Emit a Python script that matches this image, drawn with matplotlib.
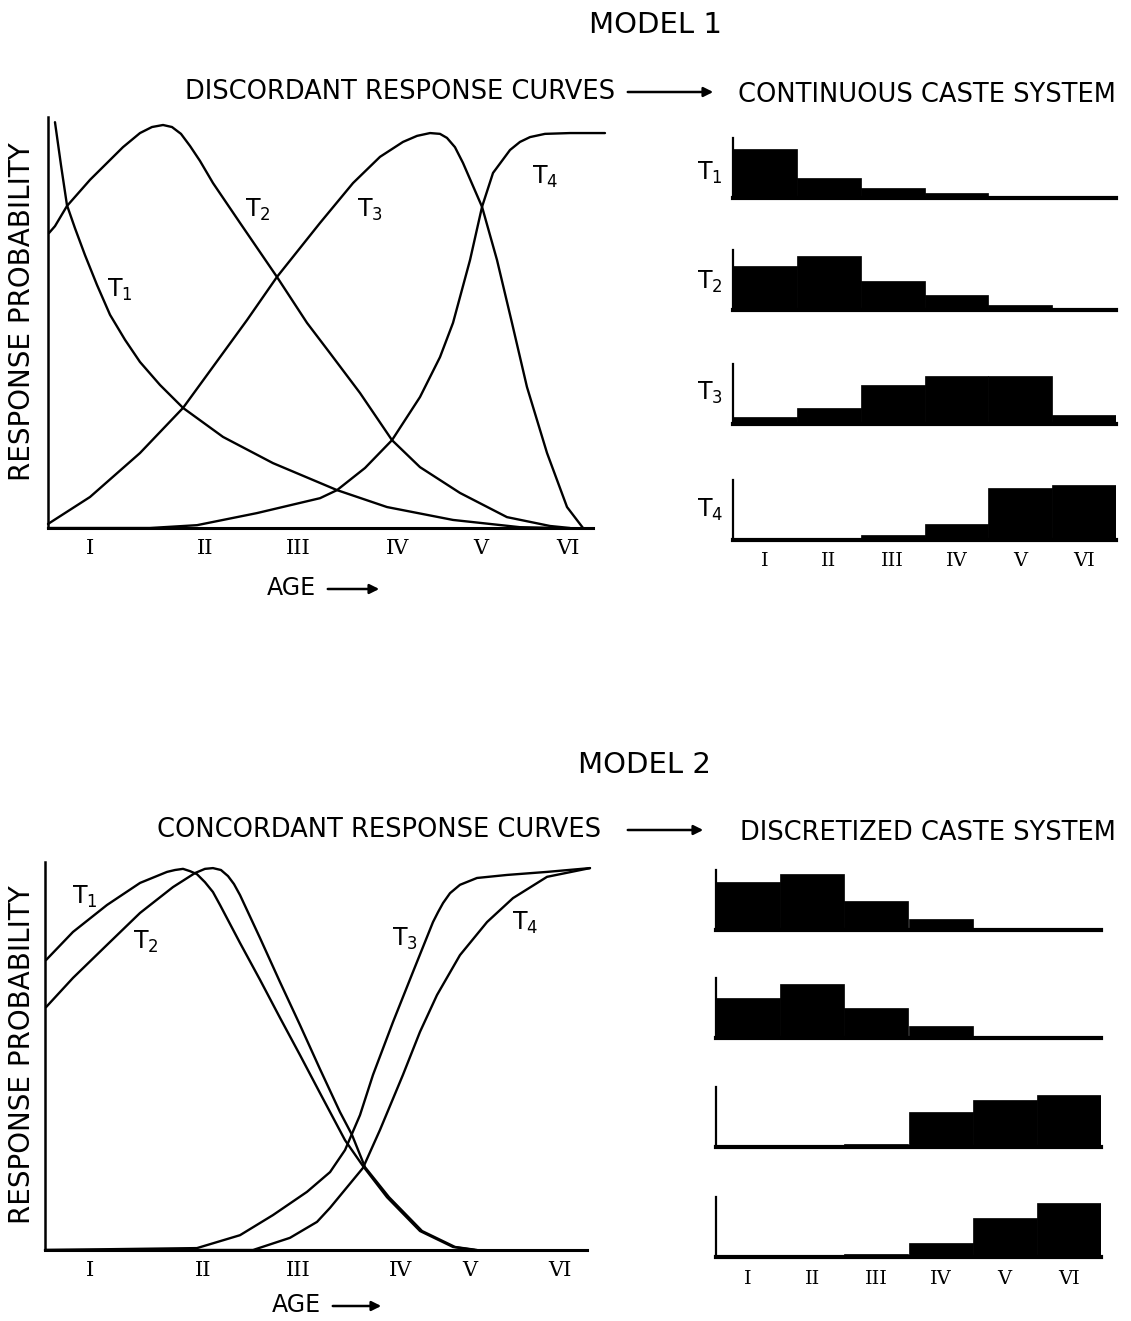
import matplotlib.pyplot as plt
from matplotlib.patches import FancyArrowPatch

# ---- data ----
# ages on a continuous scale, roman numeral ticks placed where the drawing puts them
age_labels = ["I", "II", "III", "IV", "V", "VI"]
m1_tick_pos = [0.45, 1.69, 2.69, 3.76, 4.65, 5.59]
m2_tick_pos = [0.48, 1.70, 2.72, 3.82, 4.57, 5.54]

# Model 1: discordant response curves
m1_t1_age = [0.075, 0.14, 0.204, 0.29, 0.398, 0.527, 0.667, 0.828, 0.989, 1.204, 1.452,
             1.882, 2.419, 3.108, 3.645, 4.355, 5.075, 5.505]
m1_t1_prob = [1.007, 0.90, 0.801, 0.744, 0.677, 0.603, 0.529, 0.467, 0.412, 0.355, 0.298,
              0.226, 0.161, 0.094, 0.052, 0.02, 0.002, 0.0]
m1_t2_age = [0.011, 0.075, 0.204, 0.452, 0.806, 0.989, 1.118, 1.237, 1.333, 1.43, 1.527,
             1.634, 1.774, 2.065, 2.462, 2.785, 3.032, 3.355, 3.699, 4.0, 4.43, 4.935,
             5.398, 5.613]
m1_t2_prob = [0.732, 0.749, 0.799, 0.864, 0.945, 0.98, 0.995, 1.0, 0.995, 0.978, 0.948,
              0.911, 0.856, 0.757, 0.623, 0.509, 0.434, 0.335, 0.218, 0.151, 0.087, 0.027,
              0.005, 0.0]
m1_t3_age = [0.0, 0.452, 0.989, 1.452, 1.774, 2.14, 2.462, 2.925, 3.28, 3.57, 3.817, 3.968,
             4.108, 4.215, 4.29, 4.376, 4.462, 4.667, 4.828, 4.989, 5.15, 5.366, 5.581, 5.753]
m1_t3_prob = [0.01, 0.077, 0.186, 0.298, 0.40, 0.516, 0.623, 0.757, 0.856, 0.921, 0.958, 0.973,
              0.98, 0.978, 0.968, 0.945, 0.906, 0.797, 0.665, 0.509, 0.35, 0.186, 0.052, 0.0]
m1_t4_age = [0.0, 1.097, 1.602, 2.247, 2.925, 3.108, 3.409, 3.699, 4.0, 4.215, 4.355, 4.538,
             4.667, 4.785, 4.968, 5.075, 5.183, 5.344, 5.613, 5.989]
m1_t4_prob = [0.0, 0.0, 0.007, 0.037, 0.074, 0.094, 0.149, 0.218, 0.325, 0.424, 0.509, 0.665,
              0.797, 0.881, 0.938, 0.958, 0.97, 0.978, 0.98, 0.98]

# Model 2: concordant response curves
m2_t1_age = [0.011, 0.301, 0.667, 1.022, 1.312, 1.398, 1.484, 1.559, 1.634, 1.72, 1.806,
             1.882, 2.097, 2.312, 2.527, 2.742, 2.957, 3.226, 3.419, 3.677, 4.032, 4.387, 4.624]
m2_t1_prob = [0.763, 0.837, 0.908, 0.966, 0.995, 1.0, 1.003, 0.997, 0.989, 0.968, 0.942,
              0.908, 0.808, 0.711, 0.611, 0.513, 0.413, 0.289, 0.221, 0.139, 0.05, 0.008, 0.0]
m2_t2_age = [0.011, 0.301, 0.667, 1.022, 1.376, 1.613, 1.72, 1.806, 1.892, 1.968, 2.032,
             2.097, 2.312, 2.527, 2.742, 2.957, 3.172, 3.301, 3.441, 3.699, 4.054, 4.409, 4.645]
m2_t2_prob = [0.639, 0.716, 0.803, 0.887, 0.955, 0.992, 1.003, 1.005, 1.0, 0.984, 0.963,
              0.934, 0.821, 0.705, 0.592, 0.476, 0.363, 0.303, 0.218, 0.139, 0.05, 0.008, 0.0]
m2_t3_age = [0.0, 1.634, 2.097, 2.452, 2.817, 3.065, 3.226, 3.387, 3.527, 3.742, 3.957, 4.172,
             4.226, 4.28, 4.355, 4.462, 4.645, 4.968, 5.398, 5.86]
m2_t3_prob = [0.0, 0.005, 0.039, 0.092, 0.153, 0.205, 0.263, 0.355, 0.461, 0.60, 0.732, 0.863,
              0.889, 0.913, 0.939, 0.961, 0.979, 0.987, 0.995, 1.005]
m2_t4_age = [0.0, 2.237, 2.634, 2.925, 3.065, 3.419, 3.602, 3.849, 4.032, 4.215, 4.462, 4.753,
             5.032, 5.398, 5.86]
m2_t4_prob = [0.0, 0.0, 0.032, 0.074, 0.111, 0.216, 0.316, 0.461, 0.574, 0.671, 0.776, 0.863,
              0.926, 0.982, 1.005]

# caste histograms (relative frequency per age class I..VI)
m1_hist_t1 = [0.89, 0.36, 0.18, 0.09, 0.02, 0.0]
m1_hist_t2 = [0.80, 0.98, 0.53, 0.27, 0.09, 0.01]
m1_hist_t3 = [0.13, 0.29, 0.71, 0.87, 0.87, 0.16]
m1_hist_t4 = [0.0, 0.0, 0.09, 0.29, 0.95, 1.0]
m2_hist_t1 = [0.87, 1.02, 0.53, 0.20, 0.01, 0.01]
m2_hist_t2 = [0.73, 0.98, 0.55, 0.22, 0.01, 0.01]
m2_hist_t3 = [0.0, 0.02, 0.05, 0.64, 0.85, 0.95]
m2_hist_t4 = [0.0, 0.0, 0.05, 0.25, 0.71, 0.98]

task_names = ["$\\mathrm{T_1}$", "$\\mathrm{T_2}$", "$\\mathrm{T_3}$", "$\\mathrm{T_4}$"]

# ---- figure, laid out in pixels of the 1131x1321 page ----
W, H = 1131, 1321
fig = plt.figure(figsize=(W / 100, H / 100), dpi=100)
plt.rcParams['mathtext.fontset'] = 'dejavusans'


def fx(x):
    return x / W


def fy(y):
    return 1 - y / H


def px_axes(left, top, right, bottom):
    return fig.add_axes([fx(left), fy(bottom), (right - left) / W, (bottom - top) / H])


def page_arrow(x0, x1, y):
    arr = FancyArrowPatch((fx(x0), fy(y)), (fx(x1), fy(y)), transform=fig.transFigure,
                          arrowstyle='-|>', mutation_scale=14, lw=1.8, color='black')
    fig.add_artist(arr)


def curve_panel(ax, curves, ticks, spine_end, label_xy):
    for (age, prob), name, (lx, ly) in zip(curves, task_names, label_xy):
        ax.plot(age, prob, color='black', lw=1.7, clip_on=False,
                solid_capstyle='round', solid_joinstyle='round')
        ax.text(lx, ly, name, fontsize=17, ha='center', va='center')
    ax.set_xlim(0, 6.0)
    ax.set_ylim(0, 1.02)
    for side in ['top', 'right']:
        ax.spines[side].set_visible(False)
    ax.spines['left'].set_linewidth(1.8)
    ax.spines['bottom'].set_linewidth(2.2)
    ax.spines['bottom'].set_bounds(0, spine_end)
    ax.set_yticks([])
    ax.set_xticks(ticks)
    ax.set_xticklabels(age_labels, fontsize=15, family='DejaVu Serif')
    ax.tick_params(axis='x', length=0, pad=8)


def hist_panel(left, right, baseline, values, show_ticks):
    ax = px_axes(left, baseline - 60.5, right, baseline)
    ax.bar(range(1, 7), values, width=1.0, color='black', edgecolor='black', lw=0.5)
    ax.set_xlim(0.5, 6.5)
    ax.set_ylim(0, 1.1)
    for side in ['top', 'right']:
        ax.spines[side].set_visible(False)
    ax.spines['left'].set_linewidth(1.6)
    ax.spines['bottom'].set_linewidth(3.0)
    ax.set_yticks([])
    ax.set_xticks(range(1, 7))
    if show_ticks:
        ax.set_xticklabels(age_labels, fontsize=14, family='DejaVu Serif')
    else:
        ax.set_xticklabels([])
    ax.tick_params(axis='x', length=0, pad=9)
    return ax


# ---- MODEL 1 ----
fig.text(fx(656), fy(25), "MODEL 1", fontsize=21, ha='center', va='center')
fig.text(fx(185), fy(92), "DISCORDANT RESPONSE CURVES", fontsize=18.5, ha='left', va='center')
page_arrow(625, 716, 92)
fig.text(fx(738), fy(95), "CONTINUOUS CASTE SYSTEM", fontsize=18.5, ha='left', va='center')

ax1 = px_axes(48, 528 - 403 * 1.02, 48 + 93 * 6.0, 528)
curve_panel(ax1,
            [(m1_t1_age, m1_t1_prob), (m1_t2_age, m1_t2_prob),
             (m1_t3_age, m1_t3_prob), (m1_t4_age, m1_t4_prob)],
            m1_tick_pos, 5.86,
            [(0.77, 0.59), (2.26, 0.79), (3.46, 0.79), (5.34, 0.87)])
fig.text(fx(22), fy(312), "RESPONSE PROBABILITY", fontsize=20, rotation=90,
         ha='center', va='center')
fig.text(fx(291), fy(588), "AGE", fontsize=17, ha='center', va='center')
page_arrow(325, 382, 589)

m1_hists = [m1_hist_t1, m1_hist_t2, m1_hist_t3, m1_hist_t4]
m1_baselines = [198, 310, 424, 540]
m1_label_y = [173, 282, 393, 510]
for i, (vals, base, ly) in enumerate(zip(m1_hists, m1_baselines, m1_label_y)):
    hist_panel(733, 1116, base, vals, i == 3)
    fig.text(fx(710), fy(ly), task_names[i], fontsize=17, ha='center', va='center')

# ---- MODEL 2 ----
fig.text(fx(644), fy(765), "MODEL 2", fontsize=21, ha='center', va='center')
fig.text(fx(157), fy(830), "CONCORDANT RESPONSE CURVES", fontsize=18.5, ha='left', va='center')
page_arrow(625, 706, 830)
fig.text(fx(740), fy(833), "DISCRETIZED CASTE SYSTEM", fontsize=18.5, ha='left', va='center')

ax2 = px_axes(45, 1250 - 380 * 1.02, 45 + 93 * 6.0, 1250)
curve_panel(ax2,
            [(m2_t1_age, m2_t1_prob), (m2_t2_age, m2_t2_prob),
             (m2_t3_age, m2_t3_prob), (m2_t4_age, m2_t4_prob)],
            m2_tick_pos, 5.83,
            [(0.43, 0.93), (1.08, 0.81), (3.87, 0.82), (5.16, 0.86)])
fig.text(fx(22), fy(1055), "RESPONSE PROBABILITY", fontsize=20, rotation=90,
         ha='center', va='center')
fig.text(fx(296), fy(1305), "AGE", fontsize=17, ha='center', va='center')
page_arrow(330, 384, 1306)

m2_hists = [m2_hist_t1, m2_hist_t2, m2_hist_t3, m2_hist_t4]
m2_baselines = [930, 1038, 1147, 1257]
for i, (vals, base) in enumerate(zip(m2_hists, m2_baselines)):
    hist_panel(716, 1101, base, vals, i == 3)

fig.savefig("out.png", dpi=100)
